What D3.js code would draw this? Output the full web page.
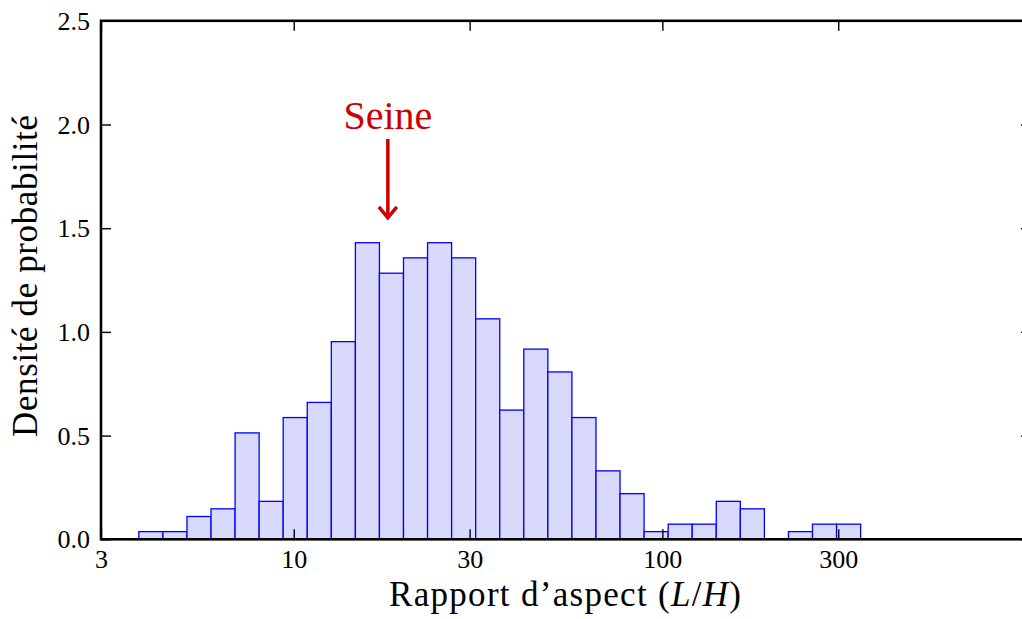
<!DOCTYPE html>
<html>
<head>
<meta charset="utf-8">
<script src="https://cdn.jsdelivr.net/npm/d3@7"></script>
<style>
  html, body { margin: 0; padding: 0; background: #fff; }
  svg { display: block; }
  text { font-family: "Liberation Serif", "DejaVu Serif", serif; fill: #000; }
</style>
</head>
<body>
<svg id="chart" width="1022" height="619"></svg>
<script>
// Histogram of river aspect ratios (L/H), log-spaced bins
const binLow = 3.8;      // first bin edge
const binHigh = 345;     // last bin edge
const binCount = 30;
const densities = [
  0.037, 0.037, 0.110, 0.147, 0.513, 0.183, 0.587, 0.660, 0.953, 1.430,
  1.283, 1.357, 1.430, 1.357, 1.063, 0.623, 0.917, 0.807, 0.587, 0.330,
  0.220, 0.037, 0.073, 0.073, 0.183, 0.147, 0.000, 0.037, 0.073, 0.073
];
const xTicks = [3, 10, 30, 100, 300];
const yTicks = [0, 0.5, 1.0, 1.5, 2.0, 2.5];
const marker = { label: "Seine", ratio: 18, textAt: 1.98, arrowFrom: 1.93, arrowTo: 1.55 };

const svg = d3.select("#chart");
const plotLeft = 101, plotRight = 1031, plotTop = 20.8, plotBottom = 539.3;

const x = d3.scaleLog().domain([3, 1000]).range([plotLeft, plotRight]);
const y = d3.scaleLinear().domain([0, 2.5]).range([plotBottom, plotTop]);

// bin edges, evenly spaced in log10
const l0 = Math.log10(binLow), l1 = Math.log10(binHigh);
const edges = d3.range(binCount + 1).map(i => Math.pow(10, l0 + i * (l1 - l0) / binCount));
const bins = densities.map((d, i) => ({ x0: edges[i], x1: edges[i + 1], v: d }));

// bars
svg.append("g")
  .selectAll("rect")
  .data(bins.filter(b => b.v > 0))
  .join("rect")
  .attr("x", b => x(b.x0))
  .attr("width", b => x(b.x1) - x(b.x0))
  .attr("y", b => y(b.v))
  .attr("height", b => y(0) - y(b.v))
  .attr("fill", "#d9d9fb")
  .attr("stroke", "#0000ff")
  .attr("stroke-width", 1.3);

// axes with inward ticks
const tickStyle = g => {
  g.select(".domain").remove();
  g.selectAll(".tick line").attr("stroke", "#000").attr("stroke-width", 1.4);
};

svg.append("g")
  .attr("transform", `translate(0,${plotBottom})`)
  .call(d3.axisBottom(x).tickValues(xTicks).tickFormat(d3.format("d"))
    .tickSizeInner(-10).tickSizeOuter(0).tickPadding(10))
  .call(tickStyle)
  .call(g => g.selectAll("text").attr("font-size", 26).attr("dy", "0.76em").attr("y", 9));

svg.append("g")
  .attr("transform", `translate(0,${plotTop})`)
  .call(d3.axisTop(x).tickValues(xTicks).tickFormat("").tickSizeInner(-10).tickSizeOuter(0))
  .call(tickStyle);

svg.append("g")
  .attr("transform", `translate(${plotLeft},0)`)
  .call(d3.axisLeft(y).tickValues(yTicks).tickFormat(d3.format(".1f"))
    .tickSizeInner(-10).tickSizeOuter(0).tickPadding(12))
  .call(tickStyle)
  .call(g => g.selectAll("text").attr("font-size", 26).attr("x", -11).attr("dy", "0.33em"));

svg.append("g")
  .attr("transform", `translate(${plotRight},0)`)
  .call(d3.axisRight(y).tickValues(yTicks).tickFormat("").tickSizeInner(-10).tickSizeOuter(0))
  .call(tickStyle);

// frame
svg.append("rect")
  .attr("x", plotLeft).attr("y", plotTop)
  .attr("width", plotRight - plotLeft).attr("height", plotBottom - plotTop)
  .attr("fill", "none").attr("stroke", "#000").attr("stroke-width", 2.6);

// axis titles
const xt = svg.append("text")
  .attr("x", 565).attr("y", 606)
  .attr("text-anchor", "middle")
  .attr("font-size", 35)
  .attr("textLength", 352).attr("lengthAdjust", "spacing");
xt.append("tspan").text("Rapport d\u2019aspect (");
xt.append("tspan").attr("font-style", "italic").text("L");
xt.append("tspan").text("/");
xt.append("tspan").attr("font-style", "italic").text("H");
xt.append("tspan").text(")");

svg.append("text")
  .attr("transform", "translate(37,276) rotate(-90)")
  .attr("text-anchor", "middle")
  .attr("font-size", 35)
  .attr("textLength", 322).attr("lengthAdjust", "spacing")
  .text("Densité de probabilité");

// Seine annotation
const red = "#cc0000";
const ax = x(marker.ratio);
svg.append("text")
  .attr("x", ax).attr("y", y(marker.textAt))
  .attr("text-anchor", "middle")
  .attr("font-size", 40)
  .style("fill", red)
  .text(marker.label);

const y0 = y(marker.arrowFrom), y1 = y(marker.arrowTo);
svg.append("path")
  .attr("d", `M${ax},${y0} L${ax},${y1 - 1} M${ax - 9},${y1 - 11} L${ax},${y1} L${ax + 9},${y1 - 11}`)
  .attr("fill", "none")
  .attr("stroke", red)
  .attr("stroke-width", 3.5)
  .attr("stroke-linejoin", "miter");
</script>
</body>
</html>
